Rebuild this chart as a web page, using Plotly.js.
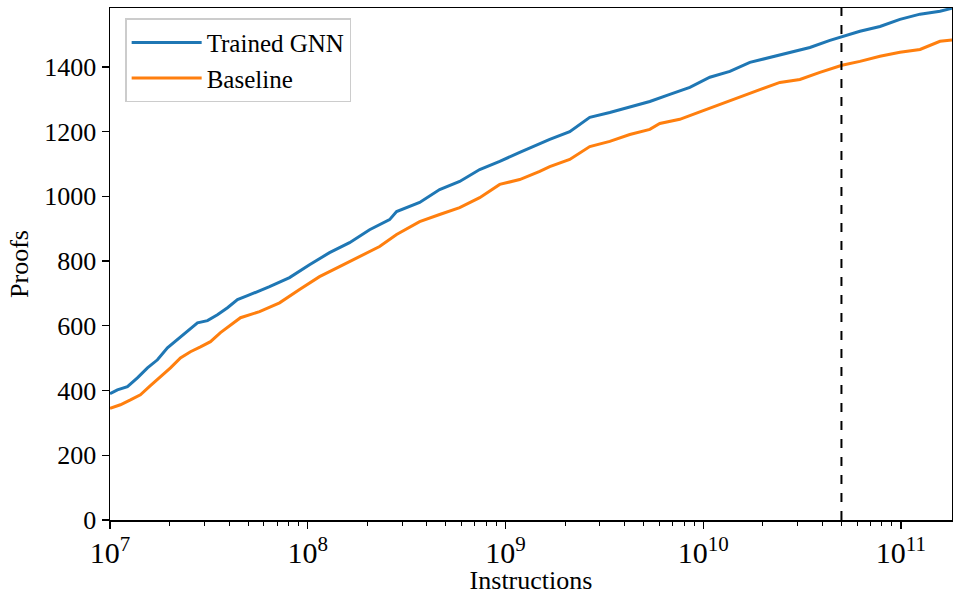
<!DOCTYPE html>
<html>
<head>
<meta charset="utf-8">
<script src="https://cdn.plot.ly/plotly-3.0.1.min.js"></script>
<style>html,body{margin:0;padding:0;background:#fff;}#chart{width:953px;height:595px;}</style>
</head>
<body>
<div id="chart"></div>
<script>
// Trained GNN: instructions (x) vs cumulative proofs (y)
const gnnInstructions = [1e7,1.09e7,1.225e7,1.376e7,1.547e7,1.738e7,1.952e7,2.194e7,2.465e7,2.769e7,3.111e7,3.495e7,3.928e7,4.413e7,4.958e7,6.41e7,8.09e7,1.021e8,1.289e8,1.627e8,2.055e8,2.594e8,2.814e8,3.68e8,4.645e8,5.865e8,7.404e8,9.35e8,1.18e9,1.49e9,1.674e9,2.113e9,2.668e9,3.368e9,4.252e9,5.368e9,6.776e9,8.555e9,1.08e10,1.363e10,1.721e10,2.173e10,2.743e10,3.463e10,4.372e10,5.028e10,6.2e10,7.83e10,9.88e10,1.248e11,1.575e11,1.812e11];
const gnnProofs = [390,402,412,439,470,495,532,557,582,609,616,634,656,681,693,721,749,789,826,857,897,928,953,981,1021,1046,1083,1108,1136,1163,1176,1200,1244,1259,1275,1293,1315,1337,1368,1386,1414,1429,1445,1460,1482,1494,1510,1525,1547,1563,1572,1581];

// Baseline
const baseInstructions = [1e7,1.129e7,1.269e7,1.425e7,1.601e7,1.799e7,2.022e7,2.271e7,2.552e7,2.868e7,3.222e7,3.62e7,4.068e7,4.57e7,5.705e7,7.201e7,9.09e7,1.147e8,1.448e8,1.828e8,2.309e8,2.814e8,3.68e8,4.645e8,5.865e8,7.404e8,9.35e8,1.18e9,1.49e9,1.674e9,2.113e9,2.668e9,3.368e9,4.252e9,5.368e9,6.03e9,7.61e9,9.39e9,1.213e10,1.532e10,1.934e10,2.441e10,3.082e10,3.89e10,5.028e10,6.2e10,7.83e10,9.88e10,1.248e11,1.575e11,1.812e11];
const baseProofs = [345,356,371,387,415,442,470,501,520,535,551,579,603,625,644,671,712,752,783,814,845,882,922,944,965,996,1037,1052,1077,1092,1114,1154,1170,1191,1207,1225,1238,1259,1284,1309,1330,1352,1361,1383,1405,1417,1433,1445,1454,1479,1483];

const seriesNames = ["Trained GNN", "Baseline"];
const cutoffInstructions = [5e10, 5e10];
const cutoffProofs = [0, 1700];
const yTicks = [0,200,400,600,800,1000,1200,1400];

const fam = "'Liberation Serif', 'DejaVu Serif', serif";
const font = {family: fam, size: 26, color: "#000"};
const xTickFont = {family: fam, size: 24, color: "#000"};
const legendFont = {family: fam, size: 25, color: "#000"};

const traces = [
  {x: gnnInstructions, y: gnnProofs, name: seriesNames[0], mode: "lines", line: {color: "#1f77b4", width: 3}},
  {x: baseInstructions, y: baseProofs, name: seriesNames[1], mode: "lines", line: {color: "#ff7f0e", width: 3}},
  {x: cutoffInstructions, y: cutoffProofs, mode: "lines", showlegend: false, hoverinfo: "skip", line: {color: "#000", width: 2, dash: "dash"}}
];

const layout = {
  width: 953, height: 595,
  margin: {l: 110, r: 1, t: 8, b: 75},
  paper_bgcolor: "#fff", plot_bgcolor: "#fff",
  font: font,
  showlegend: true,
  legend: {x: 0.018, y: 0.98, xanchor: "left", yanchor: "top", bgcolor: "rgba(255,255,255,0.85)",
           bordercolor: "#cccccc", borderwidth: 1.5, font: legendFont, itemwidth: 70, tracegroupgap: 4},
  xaxis: {
    type: "log", range: [7, 11.258], dtick: 1, exponentformat: "power", showexponent: "all",
    showgrid: false, zeroline: false, showline: true, mirror: true, linecolor: "#000", linewidth: 1.5,
    ticks: "outside", ticklen: 7, tickwidth: 1.3, tickcolor: "#000",
    minor: {ticks: "outside", ticklen: 4, tickwidth: 1, tickcolor: "#000", dtick: "D1", showgrid: false},
    title: {text: "Instructions", font: font, standoff: 4},
    tickfont: xTickFont
  },
  yaxis: {
    range: [0, 1582], tickvals: yTicks, showgrid: false, zeroline: false,
    showline: true, mirror: true, linecolor: "#000", linewidth: 1.5,
    ticks: "outside", ticklen: 7, tickwidth: 1.3, tickcolor: "#000",
    title: {text: "Proofs", font: font, standoff: 8},
    tickfont: font
  }
};

Plotly.newPlot("chart", traces, layout, {displayModeBar: false, staticPlot: true});
</script>
</body>
</html>
